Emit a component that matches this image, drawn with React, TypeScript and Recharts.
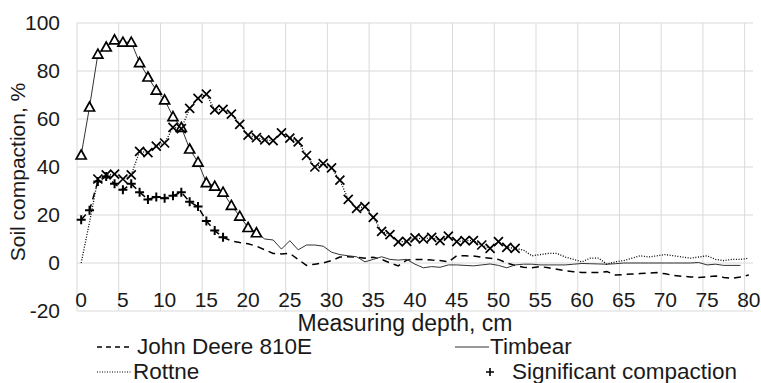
import { CartesianGrid, Legend, Line, LineChart, ReferenceLine, XAxis, YAxis } from "recharts";

// measuring depth, cm (one category per cm)
const depths = Array.from({ length: 81 }, (_, i) => i);
const xTicks = [0, 5, 10, 15, 20, 25, 30, 35, 40, 45, 50, 55, 60, 65, 70, 75, 80];
const yTicks = [-20, 0, 20, 40, 60, 80, 100];

// soil compaction, %
const johnDeere = [
  18, 22, 34, 36, 33, 30.5, 33, 29.5, 26.5, 27.5, 27, 28, 29.5, 25.5, 23.5, 17.5, 13.5, 10.7, 9.2, 8.5,
  8, 7, 5.5, 4, 3.8, 4, 1.5, -1, -0.5, 0, 1, 2.5, 2.6, 2.4, 2, 2.4, 1.5, 0, -1.2, 1.2,
  1.5, 1.5, 1.2, 1, 0.5, 3, 3, 2.9, 2.4, 2, 1.5, 0, -1, -1.8, -2, -1.5, -2, -2.6, -3.2, -3.6,
  -4, -4, -4, -3.6, -5, -4.8, -4.6, -4.4, -4.2, -4, -4.5, -5.2, -5.5, -5.8, -6, -5.8, -5.4, -6, -6.4, -5.8,
  -5,
];
const timbear = [
  45, 65, 87, 90, 93, 92, 92, 83.5, 77.5, 72, 68, 61, 56.5, 47.5, 42, 33.5, 32, 29.5, 24, 19.5,
  14.8, 12.6, 10, 9.6, 5.8, 9.3, 5.5, 7.5, 7.5, 7, 4.5, 3.5, 3, 2.6, 0.5, 1.5, 2.6, 1.5, 1.2, 1.5,
  -0.5, -2, -1.5, -1.8, -0.8, -0.8, -1, -1.2, -0.8, -0.4, -1, -2, -0.8, -0.5, -0.5, -0.8, -0.8, -0.8, -0.8, -0.5,
  -0.2, -0.3, -0.4, -0.5, -0.3, 0, 0, 0, 0, 0, 0, 0, 0, 0, 0.2, -0.8, -0.5, -1, -1, -1,
  null,
];
const rottne = [
  0, 17, 35, 36.7, 37, 35, 36.7, 46.5, 46, 48.7, 50, 56.5, 56, 64.4, 68.6, 70.4, 63.8, 64, 62, 57.8,
  53.3, 52.2, 51.3, 51, 54.2, 52, 50.5, 44.8, 40, 41.4, 39.6, 34.5, 26.5, 22.8, 23.5, 19, 13.2, 11.8, 8.8, 9,
  10.5, 10, 10.7, 9.3, 11.2, 8.9, 9.3, 9.3, 7.5, 6.1, 8.9, 6.5, 6.1, 5.4, 3, 3.5, 4, 4, 2.5, 1.5,
  0.5, 2, 2, -0.5, 0.5, 1, 2, 3, 2.5, 3, 3.5, 3, 2.5, 2, 2.5, 3, 1.5, 1, 1.5, 1.5,
  2,
];

// depth ranges (cm) where compaction is significant
const jdSignificant = [0, 17];
const tbSignificant = [0, 21];
const roSignificant = [2, 52];

const data = depths.map((d, i) => ({ depth: d, jd: johnDeere[i], tb: timbear[i], ro: rottne[i] }));

const font = "Liberation Sans, Arial, sans-serif";
const ink = "#1a1a1a";

const inside = (range: number[], d: number) => d >= range[0] && d <= range[1];

const PlusDot = (p: any) =>
  inside(jdSignificant, p.payload.depth) && p.cy != null ? (
    <path key={p.key} d={`M${p.cx - 4.5},${p.cy}H${p.cx + 4.5}M${p.cx},${p.cy - 4.5}V${p.cy + 4.5}`} stroke="#000" strokeWidth={2} />
  ) : (
    <g key={p.key} />
  );

const TriangleDot = (p: any) =>
  inside(tbSignificant, p.payload.depth) && p.cy != null ? (
    <path key={p.key} d={`M${p.cx},${p.cy - 5}L${p.cx + 5},${p.cy + 4}L${p.cx - 5},${p.cy + 4}Z`} fill="#fff" stroke="#000" strokeWidth={1.7} />
  ) : (
    <g key={p.key} />
  );

const CrossDot = (p: any) =>
  inside(roSignificant, p.payload.depth) && p.cy != null ? (
    <path key={p.key} d={`M${p.cx - 4.5},${p.cy - 4.5}L${p.cx + 4.5},${p.cy + 4.5}M${p.cx + 4.5},${p.cy - 4.5}L${p.cx - 4.5},${p.cy + 4.5}`} stroke="#000" strokeWidth={1.7} />
  ) : (
    <g key={p.key} />
  );

const XTick = ({ x, y, payload }: any) => (
  <text x={x} y={y - 12} textAnchor="middle" style={{ fontFamily: font }} fontSize={21} fill={ink}>
    {payload.value}
  </text>
);

const LegendBlock = () => {
  const txt = { position: "absolute" as const, fontFamily: font, fontSize: 22.5, color: ink, lineHeight: "24px", whiteSpace: "nowrap" as const };
  return (
    <div style={{ position: "relative", width: 761, height: 50 }}>
      <svg style={{ position: "absolute", left: 97, top: 13 }} width={36} height={2}>
        <line x1={0} y1={1} x2={36} y2={1} stroke="#000" strokeWidth={1.5} strokeDasharray="5 4" />
      </svg>
      <span style={{ ...txt, left: 137, top: 2 }}>John Deere 810E</span>
      <svg style={{ position: "absolute", left: 455, top: 13 }} width={34} height={2}>
        <line x1={0} y1={1} x2={34} y2={1} stroke="#333" strokeWidth={1} />
      </svg>
      <span style={{ ...txt, left: 490, top: 2 }}>Timbear</span>
      <svg style={{ position: "absolute", left: 97, top: 38 }} width={34} height={2}>
        <line x1={0} y1={1} x2={34} y2={1} stroke="#000" strokeWidth={1.2} strokeDasharray="1 1.5" />
      </svg>
      <span style={{ ...txt, left: 133, top: 27 }}>Rottne</span>
      <svg style={{ position: "absolute", left: 485, top: 34 }} width={10} height={10}>
        <path d="M1,5H9M5,1V9" stroke="#000" strokeWidth={1.6} />
      </svg>
      <span style={{ ...txt, left: 512, top: 27 }}>Significant compaction</span>
    </div>
  );
};

export default function App() {
  return (
    <div style={{ position: "absolute", left: 0, top: 0, width: 761, height: 383, background: "#fff", fontFamily: font }}>
      <LineChart width={761} height={383} data={data} margin={{ top: 23, right: 8, left: 17, bottom: 42 }} style={{ fontFamily: font }}>
        <CartesianGrid vertical={false} stroke="#d9d9d9" />
        {xTicks.map((t) => (
          <ReferenceLine key={t} x={t - 0.5} stroke="#d9d9d9" />
        ))}
        <XAxis
          dataKey="depth"
          type="number"
          domain={[-0.5, 80.5]}
          ticks={xTicks}
          axisLine={false}
          tickLine={false}
          height={30}
          tick={<XTick />}
          label={{
            content: () => (
              <text x={405} y={331} textAnchor="middle" style={{ fontFamily: font }} fontSize={23} fill={ink}>
                Measuring depth, cm
              </text>
            ),
          }}
        />
        <YAxis
          type="number"
          domain={[-20, 100]}
          ticks={yTicks}
          axisLine={false}
          tickLine={false}
          tickSize={0}
          tickMargin={17}
          width={60}
          tick={{ fontFamily: font, fontSize: 21, fill: ink }}
          label={{
            content: () => (
              <text x={17} y={172} transform="rotate(-90 17 172)" textAnchor="middle" dominantBaseline="central" style={{ fontFamily: font }} fontSize={21} fill={ink}>
                Soil compaction, %
              </text>
            ),
          }}
        />
        <Legend
          layout="vertical"
          align="center"
          verticalAlign="middle"
          wrapperStyle={{ left: 0, top: 333, width: 761, height: 50 }}
          content={<LegendBlock />}
        />
        <Line dataKey="jd" stroke="#000" strokeWidth={1.5} strokeDasharray="7 5" dot={PlusDot} activeDot={false} isAnimationActive={false} />
        <Line dataKey="tb" stroke="#333" strokeWidth={1} dot={TriangleDot} activeDot={false} isAnimationActive={false} connectNulls={false} />
        <Line dataKey="ro" stroke="#000" strokeWidth={1.3} strokeDasharray="1 1.6" dot={CrossDot} activeDot={false} isAnimationActive={false} />
      </LineChart>
    </div>
  );
}
